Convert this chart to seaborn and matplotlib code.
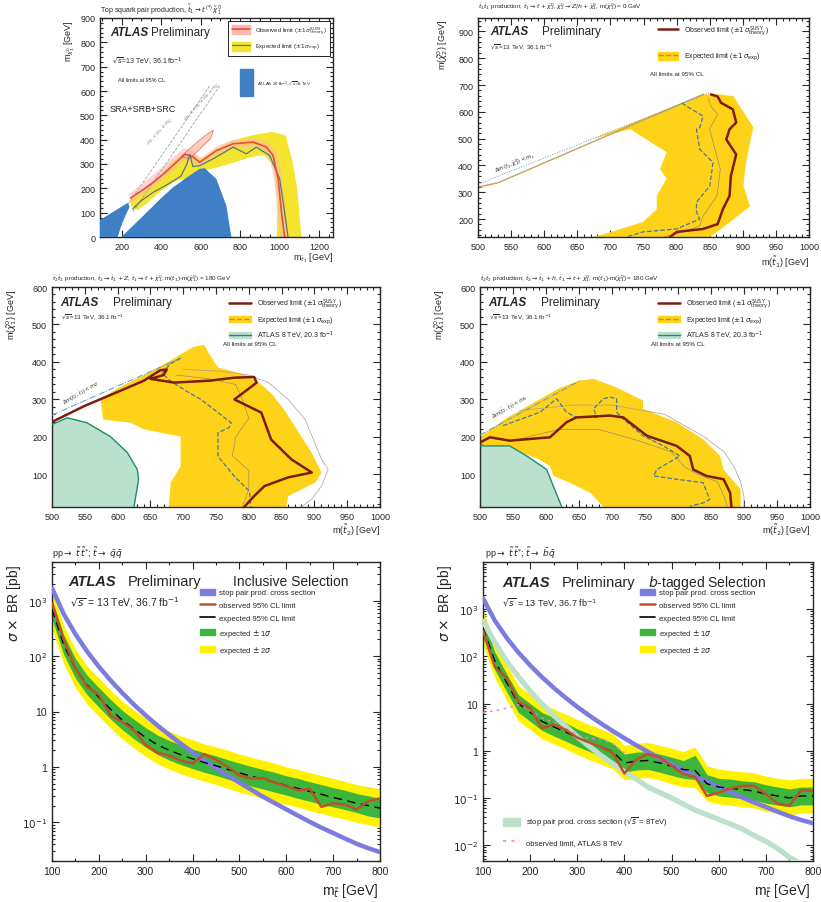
import seaborn as sns
import matplotlib.pyplot as plt
from matplotlib.patches import Patch, Rectangle
from matplotlib.lines import Line2D
from matplotlib.ticker import AutoMinorLocator, FixedLocator, FixedFormatter

# --- data ------------------------------------------------------------------
# panel 1 : t1 -> t chi1 (m_stop vs m_LSP)
p1_blue_a_x = [90, 90, 150, 200, 230, 240, 215, 195, 180]
p1_blue_a_y = [0, 70, 100, 125, 140, 125, 80, 40, 0]
p1_blue_b_x = [198, 300, 400, 460, 530, 595, 620, 679, 730, 755]
p1_blue_b_y = [0, 80, 160, 204, 245, 280, 283, 239, 129, 0]
p1_band_x = [240, 300, 380, 460, 520, 560, 600, 680, 760, 860, 960, 1030, 1065, 1090, 1110,
             985, 990, 970, 920, 850, 765, 680, 600, 530, 470, 400, 330, 280, 250]
p1_band_y = [150, 185, 240, 312, 345, 340, 318, 362, 396, 418, 432, 418, 310, 190, 0,
             0, 160, 290, 338, 328, 305, 285, 270, 240, 230, 190, 140, 110, 125]
p1_obsband_x = [235, 290, 350, 410, 470, 515, 560, 600, 680, 765, 870, 945, 985, 1012, 1030, 1048,
                1002, 988, 972, 948, 915, 860, 762, 680, 600, 560, 520, 480, 420, 360, 300, 255]
p1_obsband_y = [175, 210, 250, 290, 335, 365, 355, 325, 372, 400, 405, 385, 345, 240, 100, 0,
                0, 100, 235, 325, 355, 372, 365, 340, 290, 305, 318, 290, 245, 205, 172, 145]
p1_obstop_x = [500, 560, 620, 665, 650, 600, 545]
p1_obstop_y = [330, 375, 415, 440, 405, 365, 322]
p1_obs_x = [245, 300, 360, 420, 480, 520, 560, 595, 679, 764, 865, 932, 966, 992, 1009, 1025]
p1_obs_y = [160, 190, 225, 265, 310, 340, 330, 307, 355, 383, 390, 370, 336, 239, 102, 0]
p1_exp_x = [255, 300, 360, 430, 500, 530, 545, 560, 595, 662, 764, 831, 882, 949, 1000, 1025, 1042]
p1_exp_y = [115, 150, 184, 215, 250, 300, 340, 290, 293, 321, 369, 342, 369, 335, 239, 102, 0]
p1_diag_a_x = [256, 696]
p1_diag_a_y = [103, 621]
p1_diag_b_x = [205, 646]
p1_diag_b_y = [103, 621]

# panel 2 : t1 -> t chi2, chi2 -> Z/h chi1
p2_band_x = [675, 700, 840, 866, 886, 916, 911, 904, 901, 911, 881, 861, 850,
             674, 699, 749, 770, 770, 785, 775, 785, 730]
p2_band_y = [500, 525, 665, 665, 658, 542, 486, 397, 323, 248, 189, 152, 133,
             133, 150, 189, 237, 287, 350, 386, 449, 535]
p2_obs_x = [852, 862, 867, 885, 890, 880, 875, 890, 882, 880, 870, 862, 840, 800, 790]
p2_obs_y = [665, 657, 634, 609, 560, 535, 497, 441, 361, 287, 237, 181, 163, 152, 133]
p2_exp_x = [808, 815, 840, 835, 830, 835, 855, 850, 830, 830, 835, 800, 749, 724]
p2_exp_y = [633, 621, 584, 541, 535, 460, 411, 323, 263, 226, 200, 163, 152, 133]
p2_thin_x = [848, 852, 862, 855, 850, 866, 861, 840, 835, 810, 780]
p2_thin_y = [650, 620, 590, 560, 535, 386, 286, 212, 175, 152, 133]
p2_kin_x = [500, 530, 840]
p2_kin_y = [319, 335, 665]
p2_dot_x = [500, 850]
p2_dot_y = [330, 672]

# panel 3 : t2 -> t1 Z
p3_band_x = [574, 600, 640, 670, 696, 715, 732, 740, 753, 795, 814, 835, 855, 875, 895, 911, 902, 860, 857,
             678, 681, 696, 696, 640, 620, 578]
p3_band_y = [300, 330, 365, 393, 420, 440, 446, 420, 385, 366, 347, 315, 270, 215, 160, 105, 79, 42, 13,
             13, 79, 121, 201, 220, 238, 246]
p3_green_x = [500, 500, 523, 553, 589, 615, 630, 632, 625]
p3_green_y = [13, 233, 251, 238, 201, 158, 113, 87, 13]
p3_obs_x = [500, 550, 600, 640, 665, 675, 670, 650, 686, 740, 778, 808, 812, 788, 778, 819, 834, 865, 896, 860, 824, 808, 793]
p3_obs_y = [240, 283, 320, 350, 378, 380, 365, 355, 345, 350, 358, 360, 345, 313, 300, 265, 193, 140, 105, 92, 69, 42, 13]
p3_exp_x = [696, 680, 668, 680, 707, 727, 773, 770, 753, 753, 778, 801, 803]
p3_exp_y = [410, 395, 370, 350, 320, 300, 238, 225, 211, 148, 95, 55, 13]
p3_thin1_x = [700, 760, 800, 830, 860, 886, 911, 921, 911, 896, 880]
p3_thin1_y = [380, 375, 365, 345, 300, 246, 140, 113, 69, 34, 13]
p3_thin2_x = [690, 740, 780, 790, 800, 780, 775, 800, 800, 790]
p3_thin2_y = [365, 355, 340, 300, 250, 200, 150, 110, 60, 13]
p3_kin_x = [500, 700]
p3_kin_y = [258, 413]

# panel 4 : t2 -> t1 h
p4_band_x = [500, 500, 540, 580, 620, 650, 672, 707, 747, 747, 798, 838, 864, 869, 880, 895, 895,
             687, 667, 636, 611, 606, 590, 560, 530]
p4_band_y = [180, 200, 250, 290, 330, 350, 355, 332, 297, 275, 239, 194, 149, 113, 90, 60, 13,
             13, 51, 78, 96, 122, 140, 160, 175]
p4_green_x = [500, 500, 545, 571, 601, 611, 624]
p4_green_y = [13, 176, 176, 149, 113, 69, 13]
p4_obs_x = [500, 515, 545, 606, 631, 646, 697, 717, 753, 798, 818, 823, 843, 869, 879, 881]
p4_obs_y = [185, 199, 190, 199, 239, 252, 257, 252, 203, 176, 149, 113, 96, 87, 51, 13]
p4_exp_x = [535, 591, 616, 631, 646, 677, 672, 687, 697, 707, 707, 717, 747, 778, 803, 768, 763, 798, 838, 848, 838, 818]
p4_exp_y = [230, 266, 302, 266, 252, 252, 275, 302, 306, 302, 266, 248, 203, 176, 149, 113, 96, 87, 78, 33, 24, 15]
p4_thin1_x = [560, 640, 700, 780, 840, 870, 885, 895, 900, 900]
p4_thin1_y = [270, 285, 285, 260, 200, 160, 120, 80, 40, 13]
p4_thin2_x = [560, 620, 680, 740, 790, 810, 830, 860, 870, 875]
p4_thin2_y = [195, 220, 220, 190, 160, 120, 100, 80, 40, 13]
p4_kin_x = [500, 652]
p4_kin_y = [205, 351]

# panels 5 and 6 : RPV stop -> qq, cross-section limits
mass = [100, 125, 150, 175, 200, 225, 250, 275, 300, 325, 350, 375, 400, 425, 450,
        475, 500, 525, 550, 575, 600, 625, 650, 675, 700, 725, 750, 775, 800]
xsec13 = [1700, 574, 249, 121, 64.5, 36.4, 21.6, 13.3, 8.5, 5.6, 3.8, 2.62, 1.84, 1.31, 0.95,
          0.7, 0.52, 0.39, 0.29, 0.223, 0.171, 0.132, 0.102, 0.08, 0.064, 0.051, 0.041, 0.034, 0.029]
xsec8 = [560, 200, 80, 37, 18.5, 9.8, 5.6, 3.3, 1.99, 1.25, 0.8, 0.53, 0.357, 0.25, 0.17,
         0.13, 0.1, 0.074, 0.055, 0.044, 0.035, 0.028, 0.022, 0.016, 0.012, 0.0085, 0.0055, 0.004, 0.003]

p5_obs = [900, 200, 60, 28, 20, 8.5, 6.5, 4.6, 2.5, 1.8, 1.6, 1.3, 1.15, 1.7, 1.35,
          1.0, 0.7, 0.62, 0.63, 0.52, 0.45, 0.38, 0.40, 0.19, 0.22, 0.21, 0.17, 0.24, 0.27]
p5_exp = [700, 160, 60, 30, 18, 11, 7.0, 4.8, 3.4, 2.5, 2.0, 1.65, 1.4, 1.2, 1.05,
          0.9, 0.78, 0.68, 0.6, 0.53, 0.46, 0.41, 0.36, 0.32, 0.28, 0.25, 0.22, 0.2, 0.18]
p5_g_lo = [467, 107, 40, 20, 12, 7.3, 4.7, 3.2, 2.27, 1.67, 1.33, 1.1, 0.93, 0.8, 0.7,
           0.6, 0.52, 0.45, 0.4, 0.35, 0.31, 0.27, 0.24, 0.21, 0.19, 0.17, 0.15, 0.13, 0.12]
p5_g_hi = [1050, 240, 90, 45, 27, 16.5, 10.5, 7.2, 5.1, 3.75, 3.0, 2.5, 2.1, 1.8, 1.58,
           1.35, 1.17, 1.02, 0.9, 0.8, 0.69, 0.62, 0.54, 0.48, 0.42, 0.38, 0.33, 0.3, 0.27]
p5_y_lo = [318, 73, 27, 13.6, 8.2, 5.0, 3.2, 2.2, 1.55, 1.14, 0.91, 0.75, 0.64, 0.55, 0.48,
           0.41, 0.35, 0.31, 0.27, 0.24, 0.21, 0.19, 0.16, 0.145, 0.127, 0.114, 0.1, 0.091, 0.082]
p5_y_hi = [1540, 350, 132, 66, 40, 24, 15.4, 10.6, 7.5, 5.5, 4.4, 3.6, 3.1, 2.6, 2.3,
           2.0, 1.7, 1.5, 1.32, 1.17, 1.0, 0.9, 0.79, 0.7, 0.62, 0.55, 0.48, 0.44, 0.4]

p6_obs = [350, 60, 35, 11, 8, 3.0, 3.6, 2.8, 1.9, 1.5, 1.2, 0.9, 0.33, 0.65, 0.85,
          0.72, 0.48, 0.32, 0.28, 0.11, 0.13, 0.16, 0.18, 0.18, 0.12, 0.075, 0.068, 0.145, 0.14]
p6_exp = [400, 80, 28, 10, 6.5, 4.2, 3.2, 2.5, 1.9, 1.5, 1.2, 0.95, 0.55, 0.6, 0.62,
          0.55, 0.47, 0.4, 0.38, 0.2, 0.17, 0.16, 0.15, 0.14, 0.12, 0.11, 0.1, 0.11, 0.11]
p6_g_lo = [258, 52, 18, 6.5, 4.2, 2.7, 2.06, 1.6, 1.23, 0.97, 0.77, 0.61, 0.35, 0.39, 0.4,
           0.35, 0.3, 0.26, 0.245, 0.13, 0.11, 0.103, 0.097, 0.09, 0.077, 0.071, 0.065, 0.071, 0.071]
p6_g_hi = [620, 124, 43, 15.5, 10, 6.5, 5.0, 3.9, 2.9, 2.3, 1.86, 1.47, 0.85, 0.93, 0.96,
           0.85, 0.73, 0.62, 0.8, 0.31, 0.26, 0.25, 0.23, 0.22, 0.19, 0.17, 0.155, 0.17, 0.17]
p6_y_lo = [174, 35, 12, 4.3, 2.8, 1.8, 1.4, 1.1, 0.83, 0.65, 0.52, 0.41, 0.24, 0.26, 0.27,
           0.24, 0.2, 0.17, 0.165, 0.087, 0.074, 0.07, 0.065, 0.061, 0.052, 0.048, 0.043, 0.048, 0.048]
p6_y_hi = [960, 190, 67, 24, 15.6, 10, 7.7, 6.0, 4.6, 3.6, 2.9, 2.3, 1.3, 1.45, 1.5,
           1.3, 1.13, 0.96, 1.2, 0.48, 0.41, 0.38, 0.36, 0.34, 0.29, 0.26, 0.24, 0.26, 0.26]
p6_run1_m = [100, 125, 150, 175, 200, 225, 250, 275, 300, 325, 350, 375, 400]
p6_run1 = [6.5, 7.0, 8.0, 9.5, 7.0, 5.0, 4.0, 3.0, 2.2, 1.8, 1.8, 1.4, 0.9]

# --- style ------------------------------------------------------------------
sns.set_style("ticks")
plt.rcParams['font.family'] = ['Liberation Sans', 'DejaVu Sans']
plt.rcParams['mathtext.fontset'] = 'dejavusans'

YEL1 = '#F4E52C'
GOLD = '#FFD21A'
DARKRED = '#7E1C10'
DASHBLUE = '#4A7896'
OBS1 = '#E8502E'
PINK1 = '#F9B9B0'
BLUE8 = '#3F7FC6'
GREEN8 = '#BCE0CE'
GREEN8E = '#1E8C6E'
YEL5 = '#FFF200'
GRN5 = '#3DB53D'
XSEC = '#7B7BE0'
RED5 = '#C0502A'
PALE8 = '#BDE0CB'

W, H = 821, 903
fig = plt.figure(figsize=(W / 100, H / 100), dpi=100)


def box(l, t, r, b):
    return [l / W, 1 - b / H, (r - l) / W, (b - t) / H]


def ft(x, y, s, **kw):
    fig.text(x / W, 1 - y / H, s, **kw)


def line(ax, x, y, **kw):
    sns.lineplot(x=x, y=y, ax=ax, sort=False, estimator=None, legend=False, **kw)


def frame(ax, fs):
    ax.tick_params(which='both', direction='in', top=True, right=True, labelsize=fs, width=0.8)
    ax.tick_params(which='major', length=5)
    ax.tick_params(which='minor', length=2.5)
    for s in ax.spines.values():
        s.set_linewidth(1.0)
    ax.set_xlabel('')
    ax.set_ylabel('')


ax1 = fig.add_axes(box(100, 19, 333, 238))
ax2 = fig.add_axes(box(478, 19, 809, 238))
ax3 = fig.add_axes(box(52, 288, 380, 508))
ax4 = fig.add_axes(box(480, 288, 810, 508))
ax5 = fig.add_axes(box(52, 563, 380, 862))
ax6 = fig.add_axes(box(483, 563, 813, 862))

# --- panel 1 ------------------------------------------------------------------
ax1.fill(p1_band_x, p1_band_y, color=YEL1, lw=0, zorder=1)
ax1.fill(p1_obsband_x, p1_obsband_y, color=PINK1, lw=0, alpha=0.6, zorder=2)
ax1.fill(p1_obstop_x, p1_obstop_y, color=PINK1, lw=0.6, ec=OBS1, alpha=0.7, zorder=2)
line(ax1, p1_exp_x, p1_exp_y, color='#4E7A80', lw=0.9, zorder=3)
line(ax1, p1_obs_x, p1_obs_y, color=OBS1, lw=1.2, zorder=4)
ax1.fill(p1_blue_a_x, p1_blue_a_y, color=BLUE8, lw=0, zorder=5)
ax1.fill(p1_blue_b_x, p1_blue_b_y, color=BLUE8, lw=0, zorder=5)
line(ax1, p1_diag_a_x, p1_diag_a_y, color='#A0A0A0', lw=0.6, linestyle='--', zorder=2)
line(ax1, p1_diag_b_x, p1_diag_b_y, color='#A0A0A0', lw=0.6, linestyle='--', zorder=2)
ax1.text(395, 440, r'$m_{\tilde{t}_1} < m_t + m_{\tilde{\chi}^0_1}$', rotation=48, fontsize=3.5,
         color='#8A8A8A', ha='center', va='center')
ax1.text(610, 560, r'$m_{\tilde{t}_1} < m_W + m_b + m_{\tilde{\chi}^0_1}$', rotation=48, fontsize=3.5,
         color='#8A8A8A', ha='center', va='center')
ax1.set_xlim(90, 1270)
ax1.set_ylim(0, 900)
ax1.xaxis.set_major_locator(FixedLocator([200, 400, 600, 800, 1000, 1200]))
ax1.yaxis.set_major_locator(FixedLocator(list(range(0, 901, 100))))
ax1.xaxis.set_minor_locator(AutoMinorLocator(4))
ax1.yaxis.set_minor_locator(AutoMinorLocator(5))
frame(ax1, 6.5)
leg1 = ax1.legend(handles=[(Patch(color=PINK1), Line2D([], [], color=OBS1, lw=1.2)),
                           (Patch(color=YEL1), Line2D([], [], color='#4E7A80', lw=0.9))],
                  labels=[r'Observed limit ($\pm1\,\sigma^{\rm SUSY}_{\rm theory}$)',
                          r'Expected limit ($\pm1\,\sigma_{\rm exp}$)'],
                  loc='upper right', bbox_to_anchor=(1.0, 1.0), fontsize=4.2, frameon=True,
                  fancybox=False, edgecolor='black', framealpha=1, handlelength=3.2,
                  handleheight=2.0, labelspacing=0.9, borderpad=0.6)
leg1.get_frame().set_linewidth(0.6)
ax1.add_patch(Rectangle((0.601, 0.644), 0.056, 0.123, transform=ax1.transAxes, color=BLUE8, zorder=6))
ax1.text(0.675, 0.705, r'ATLAS 20 fb$^{-1}$, $\sqrt{s}$=8 TeV', transform=ax1.transAxes,
         fontsize=3.2, va='center')
ft(110, 33, 'ATLAS', fontsize=8.5, weight='bold', style='italic', va='center')
ft(151, 33, 'Preliminary', fontsize=8.5, va='center')
ft(112, 62, r'$\sqrt{s}$=13 TeV, 36.1 fb$^{-1}$', fontsize=5, va='center')
ft(118, 80, 'All limits at 95% CL', fontsize=4, va='center')
ft(110, 110, 'SRA+SRB+SRC', fontsize=6.5, va='center')
ft(100, 10, r'Top squark pair production, $\tilde{t}_1 \rightarrow t^{(*)}\,\tilde{\chi}^0_1$',
   fontsize=5, va='center')
ft(70, 20, r'm$_{\tilde{\chi}^0_1}$ [GeV]', fontsize=6.5, rotation=90, ha='center', va='top')
ft(333, 258, r'm$_{\tilde{t}_1}$ [GeV]', fontsize=6.5, ha='right', va='center')

# --- panel 2 ------------------------------------------------------------------
ax2.fill(p2_band_x, p2_band_y, color=GOLD, lw=0, zorder=1)
line(ax2, p2_thin_x, p2_thin_y, color='#9A8A6A', lw=0.5, zorder=2)
line(ax2, p2_exp_x, p2_exp_y, color=DASHBLUE, lw=0.9, linestyle='--', zorder=3)
line(ax2, p2_obs_x, p2_obs_y, color=DARKRED, lw=1.8, zorder=4)
line(ax2, p2_kin_x, p2_kin_y, color='#C8A060', lw=1.0, zorder=2)
line(ax2, p2_dot_x, p2_dot_y, color='#5A9AC0', lw=0.7, linestyle=':', zorder=2)
ax2.text(555, 412, r'$\Delta m(\tilde{t}_1,\tilde{\chi}^0_2) < m_t$', rotation=22, fontsize=4,
         ha='center', va='center')
ax2.set_xlim(500, 1000)
ax2.set_ylim(133, 950)
ax2.xaxis.set_major_locator(FixedLocator(list(range(500, 1001, 50))))
ax2.yaxis.set_major_locator(FixedLocator(list(range(200, 901, 100))))
ax2.xaxis.set_minor_locator(AutoMinorLocator(5))
ax2.yaxis.set_minor_locator(AutoMinorLocator(5))
frame(ax2, 6.5)
ax2.legend(handles=[Line2D([], [], color=DARKRED, lw=1.8),
                    (Patch(color=GOLD), Line2D([], [], color='#D08A10', lw=1, linestyle='--'))],
           labels=[r'Observed limit ($\pm1\,\sigma^{\rm SUSY}_{\rm theory}$)',
                   r'Expected limit ($\pm1\,\sigma_{\rm exp}$)'],
           loc='upper left', bbox_to_anchor=(0.53, 0.995), fontsize=5, frameon=False,
           handlelength=3.0, handleheight=1.6, labelspacing=1.9, borderaxespad=0.2)
ft(490, 32, 'ATLAS', fontsize=8.5, weight='bold', style='italic', va='center')
ft(542, 32, 'Preliminary', fontsize=8.5, va='center')
ft(490, 47, r'$\sqrt{s}$=13 TeV, 36.1 fb$^{-1}$', fontsize=4.5, va='center')
ft(650, 75, 'All limits at 95% CL', fontsize=4.5, va='center')
ft(478, 7, r'$\tilde{t}_1\tilde{t}_1$ production, $\tilde{t}_1 \rightarrow t + \tilde{\chi}^0_2$, '
           r'$\tilde{\chi}^0_2 \rightarrow Z/h + \tilde{\chi}^0_1$, m($\tilde{\chi}^0_1$) = 0 GeV',
   fontsize=4.5, va='center')
ft(443, 20, r'm($\tilde{\chi}^0_2$) [GeV]', fontsize=6.5, rotation=90, ha='center', va='top')
ft(809, 262, r'm($\tilde{t}_1$) [GeV]', fontsize=6.5, ha='right', va='center')

# --- panels 3 and 4 -------------------------------------------------------------
for ax, bx, by, gx, gy, ox, oy, ex, ey, t1x, t1y, t2x, t2y, kx, ky in [
        (ax3, p3_band_x, p3_band_y, p3_green_x, p3_green_y, p3_obs_x, p3_obs_y, p3_exp_x, p3_exp_y,
         p3_thin1_x, p3_thin1_y, p3_thin2_x, p3_thin2_y, p3_kin_x, p3_kin_y),
        (ax4, p4_band_x, p4_band_y, p4_green_x, p4_green_y, p4_obs_x, p4_obs_y, p4_exp_x, p4_exp_y,
         p4_thin1_x, p4_thin1_y, p4_thin2_x, p4_thin2_y, p4_kin_x, p4_kin_y)]:
    ax.fill(bx, by, color=GOLD, lw=0, zorder=1)
    ax.fill(gx, gy, color=GREEN8, lw=0, zorder=2)
    line(ax, gx[1:], gy[1:], color=GREEN8E, lw=1.0, zorder=3)
    line(ax, t1x, t1y, color='#B09A9A', lw=0.5, zorder=3)
    line(ax, t2x, t2y, color='#A08A70', lw=0.5, zorder=3)
    line(ax, ex, ey, color=DASHBLUE, lw=0.9, linestyle='--', zorder=4)
    line(ax, ox, oy, color=DARKRED, lw=1.8, zorder=5)
    line(ax, kx, ky, color='#5A9AC0', lw=0.7, linestyle='-.', zorder=3)
    ax.set_xlim(500, 1000)
    ax.set_ylim(13, 600)
    ax.xaxis.set_major_locator(FixedLocator(list(range(500, 1001, 50))))
    ax.yaxis.set_major_locator(FixedLocator([100, 200, 300, 400, 500, 600]))
    ax.xaxis.set_minor_locator(AutoMinorLocator(5))
    ax.yaxis.set_minor_locator(AutoMinorLocator(5))
    frame(ax, 6.5)
    ax.legend(handles=[Line2D([], [], color=DARKRED, lw=1.8),
                       (Patch(color=GOLD), Line2D([], [], color='#D08A10', lw=1, linestyle='--')),
                       (Patch(color=GREEN8), Line2D([], [], color=GREEN8E, lw=1))],
              labels=[r'Observed limit ($\pm1\,\sigma^{\rm SUSY}_{\rm theory}$)',
                      r'Expected limit ($\pm1\,\sigma_{\rm exp}$)',
                      r'ATLAS 8 TeV, 20.3 fb$^{-1}$'],
              loc='upper left', bbox_to_anchor=(0.52, 0.985), fontsize=5, frameon=False,
              handlelength=3.2, handleheight=0.9, labelspacing=0.45)

ax3.text(545, 318, r'$\Delta m(\tilde{t}_2,\tilde{t}_1) < m_Z$', rotation=30, fontsize=3.8,
         ha='center', va='center')
ax4.text(545, 282, r'$\Delta m(\tilde{t}_2,\tilde{t}_1) < m_h$', rotation=30, fontsize=3.8,
         ha='center', va='center')
for x0, lab in [(52, 'Z'), (480, 'h')]:
    ft(x0 + 8, 303, 'ATLAS', fontsize=8.5, weight='bold', style='italic', va='center')
    ft(x0 + 61, 303, 'Preliminary', fontsize=8.5, va='center')
    ft(x0 + 9, 317, r'$\sqrt{s}$=13 TeV, 36.1 fb$^{-1}$', fontsize=4.5, va='center')
    ft(x0 + 171, 345, 'All limits at 95% CL', fontsize=4.5, va='center')
    ft(x0, 279, r'$\tilde{t}_2\tilde{t}_2$ production, $\tilde{t}_2 \rightarrow \tilde{t}_1 + ' + lab +
       r'$, $\tilde{t}_1 \rightarrow t + \tilde{\chi}^0_1$, m($\tilde{t}_1$)-m($\tilde{\chi}^0_1$) = 180 GeV',
       fontsize=4.5, va='center')
ft(12, 290, r'm($\tilde{\chi}^0_1$) [GeV]', fontsize=6.5, rotation=90, ha='center', va='top')
ft(380, 530, r'm($\tilde{t}_2$) [GeV]', fontsize=6.5, ha='right', va='center')
ft(440, 290, r'm($\tilde{\chi}^0_1$) [GeV]', fontsize=6.5, rotation=90, ha='center', va='top')
ft(810, 530, r'm($\tilde{t}_2$) [GeV]', fontsize=6.5, ha='right', va='center')

# --- panels 5 and 6 -------------------------------------------------------------
for ax, obs, exp, glo, ghi, ylo, yhi in [(ax5, p5_obs, p5_exp, p5_g_lo, p5_g_hi, p5_y_lo, p5_y_hi),
                                          (ax6, p6_obs, p6_exp, p6_g_lo, p6_g_hi, p6_y_lo, p6_y_hi)]:
    ax.set_yscale('log')
    ax.fill_between(mass, ylo, yhi, color=YEL5, lw=0, zorder=1)
    ax.fill_between(mass, glo, ghi, color=GRN5, lw=0, zorder=2)
    line(ax, mass, xsec13, color=XSEC, lw=3.2, zorder=4)
    line(ax, mass, exp, color='black', lw=1.0, linestyle=(0, (6, 4)), zorder=5)
    line(ax, mass, obs, color=RED5, lw=1.8, zorder=6)
    ax.set_xlim(100, 800)
    ax.xaxis.set_major_locator(FixedLocator(list(range(100, 801, 100))))
    ax.xaxis.set_minor_locator(AutoMinorLocator(2))
    frame(ax, 7.5)

line(ax6, mass, xsec8, color=PALE8, lw=3.8, zorder=3)
line(ax6, p6_run1_m, p6_run1, color='#F080C8', lw=1.0, linestyle=(0, (2, 3)), zorder=5)

ax5.set_ylim(0.02, 5000)
ax5.yaxis.set_major_locator(FixedLocator([0.1, 1, 10, 100, 1000]))
ax5.yaxis.set_major_formatter(FixedFormatter([r'$10^{-1}$', '1', '10', r'$10^{2}$', r'$10^{3}$']))
ax6.set_ylim(0.0046, 10000)
ax6.yaxis.set_major_locator(FixedLocator([0.01, 0.1, 1, 10, 100, 1000]))
ax6.yaxis.set_major_formatter(FixedFormatter([r'$10^{-2}$', r'$10^{-1}$', '1', '10', r'$10^{2}$', r'$10^{3}$']))

hands = [Patch(color=XSEC), Line2D([], [], color=RED5, lw=1.8), Line2D([], [], color='black', lw=1.2),
         Patch(color=GRN5), Patch(color=YEL5)]
labs = ['stop pair prod. cross section', 'observed 95% CL limit', 'expected 95% CL limit',
        r'expected $\pm$ 1$\sigma$', r'expected $\pm$ 2$\sigma$']
for ax, bx in [(ax5, 0.451), (ax6, 0.476)]:
    ax.legend(handles=hands, labels=labs, loc='upper left', bbox_to_anchor=(bx, 0.91),
              fontsize=5.5, frameon=False, borderpad=0, borderaxespad=0,
              handlelength=2.0, handleheight=0.8, labelspacing=0.65, handletextpad=0.5)
ax6.add_artist(ax6.get_legend())
ax6.legend(handles=[Patch(color=PALE8), Line2D([], [], color='#F080C8', lw=1.2, linestyle=(0, (2, 3)))],
           labels=[r'stop pair prod. cross section ($\sqrt{s}$ = 8TeV)', 'observed limit, ATLAS 8 TeV'],
           loc='lower left', bbox_to_anchor=(0.06, 0.05), fontsize=5.5, frameon=False,
           borderpad=0, borderaxespad=0, handlelength=2.2, handleheight=1.2, labelspacing=1.2)

ft(291, 582, 'Inclusive Selection', fontsize=10, ha='center', va='center')
ft(707, 583, r'$b$-tagged Selection', fontsize=10, ha='center', va='center')
ft(68, 582, 'ATLAS', fontsize=10.5, weight='bold', style='italic', va='center')
ft(128, 582, 'Preliminary', fontsize=10.5, va='center')
ft(70, 603, r'$\sqrt{s}$ = 13 TeV, 36.7 fb$^{-1}$', fontsize=7.5, va='center')
ft(502, 583, 'ATLAS', fontsize=10.5, weight='bold', style='italic', va='center')
ft(562, 583, 'Preliminary', fontsize=10.5, va='center')
ft(502, 603, r'$\sqrt{s}$ = 13 TeV, 36.7 fb$^{-1}$', fontsize=6.5, va='center')
ft(52, 553, r'pp$\rightarrow$ $\tilde{t}\,\tilde{t}^{*}$; $\tilde{t}\rightarrow$ $\bar{q}\bar{q}$',
   fontsize=6.5, va='center')
ft(485, 553, r'pp$\rightarrow$ $\tilde{t}\,\tilde{t}^{*}$; $\tilde{t}\rightarrow$ $\bar{b}\bar{q}$',
   fontsize=6.5, va='center')
ft(14, 565, r'$\sigma\times$ BR [pb]', fontsize=10, rotation=90, ha='center', va='top')
ft(445, 565, r'$\sigma\times$ BR [pb]', fontsize=10, rotation=90, ha='center', va='top')
ft(378, 891, r'm$_{\tilde{t}}$ [GeV]', fontsize=10, ha='right', va='center')
ft(810, 891, r'm$_{\tilde{t}}$ [GeV]', fontsize=10, ha='right', va='center')

fig.savefig('out.png', dpi=100, facecolor='white')
